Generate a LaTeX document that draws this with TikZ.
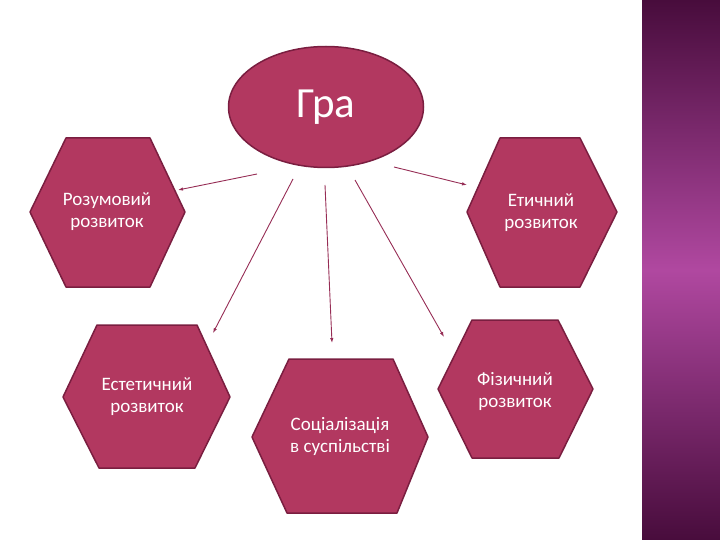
\documentclass[tikz,border=0pt]{standalone}
\usepackage{fontspec}
\setmainfont{Carlito}
\usetikzlibrary{arrows.meta,shapes.geometric}
\definecolor{hexfill}{RGB}{178,56,96}
\definecolor{hexline}{RGB}{122,30,64}
\definecolor{arrowcol}{RGB}{150,45,85}
\definecolor{stripdark}{RGB}{72,12,60}
\definecolor{stripmid}{RGB}{176,72,160}
\begin{document}
\begin{tikzpicture}[x=1pt,y=-1pt,line join=round,>={Latex[length=5pt,width=3.5pt]},
  hexa/.style={fill=hexfill,draw=hexline,line width=1.5pt},
  lbl/.style={text=white,align=center,font=\fontsize{19}{22}\selectfont},
  arr/.style={->,draw=arrowcol,line width=0.9pt}]
\useasboundingbox (0,0) rectangle (720,540);
\shade[top color=stripdark,bottom color=stripdark,middle color=stripmid](642,0) rectangle (720,540);

\node[ellipse,hexa,minimum width=195pt,minimum height=121pt,text=white,
  font=\fontsize{43}{46}\selectfont] (gra) at (326,107) {Гра};

\filldraw[hexa](30,212)--(66,138)--(150,138)--(185,212)--(150,287)--(66,287)--cycle;
\filldraw[hexa](63,397)--(97,325)--(197,325)--(230,397)--(195,468)--(99,468)--cycle;
\filldraw[hexa](252,437)--(289,359)--(393,359)--(428,437)--(397,513)--(287,513)--cycle;
\filldraw[hexa](438,389)--(472,320)--(558,320)--(593,389)--(559,458)--(472,458)--cycle;
\filldraw[hexa](467,212)--(500,138)--(580,138)--(617,212)--(580,287)--(500,287)--cycle;

\node[lbl] (rozum) at (107,212) {Розумовий\\розвиток};
\node[lbl] (estet) at (147,397) {Естетичний\\розвиток};
\node[lbl] (social) at (340,436) {Соціалізація\\в суспільстві};
\node[lbl] (fizych) at (515,391) {Фізичний\\розвиток};
\node[lbl] (etych) at (541,213) {Етичний\\розвиток};

\coordinate (g1) at (257,174);
\coordinate (g2) at (293,179);
\coordinate (g3) at (325,185);
\coordinate (g4) at (355,180);
\coordinate (g5) at (394,167);
\coordinate (t1) at (178,190);
\coordinate (t2) at (213,333);
\coordinate (t3) at (332,343);
\coordinate (t4) at (444,337);
\coordinate (t5) at (467,185);

\draw[arr](g1)--(t1);
\draw[arr](g2)--(t2);
\draw[arr](g3)--(t3);
\draw[arr](g4)--(t4);
\draw[arr](g5)--(t5);
\end{tikzpicture}
\end{document}
